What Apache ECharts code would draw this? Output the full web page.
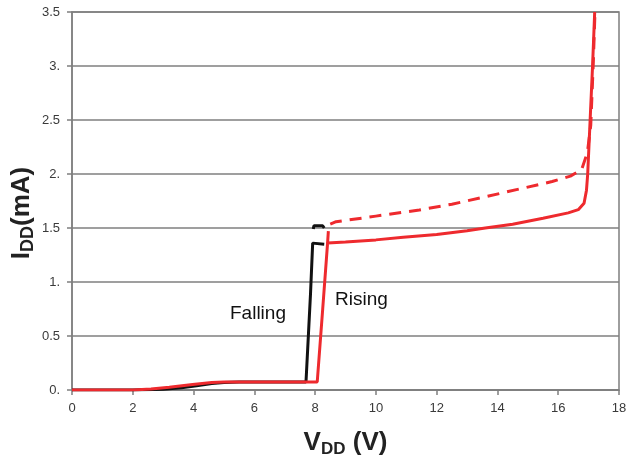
<!DOCTYPE html>
<html>
<head>
<meta charset="utf-8">
<script src="https://cdn.jsdelivr.net/npm/echarts@6/dist/echarts.min.js"></script>
<style>
html,body{margin:0;padding:0;background:#fff;}
#chart{width:626px;height:460px;}
</style>
</head>
<body>
<div id="chart"></div>
<script>
// V_DD (V), I_DD (mA) pairs
const risingSolid = [
  [0,0],[2,0],[2.6,0.01],[3.2,0.025],[3.97,0.05],[4.6,0.07],[5,0.075],[8.07,0.075],
  [8.25,0.75],[8.41,1.36],[9,1.37],[10,1.39],[10.9,1.414],[12,1.44],[13,1.475],
  [13.6,1.5],[14.5,1.535],[15.5,1.59],[16.33,1.64],[16.66,1.67],[16.85,1.73],
  [16.93,1.85],[16.97,2.0],[17.05,2.5],[17.13,3.0],[17.2,3.5]
];
const risingDashed = [
  [8.41,1.36],[8.45,1.53],[8.69,1.558],[10,1.61],[11.43,1.667],[12.5,1.72],
  [13.62,1.79],[14.7,1.86],[15.8,1.93],[16.4,1.98],[16.77,2.04],[16.96,2.2],
  [17.07,2.45],[17.15,3.0],[17.21,3.5]
];
const fallingSolid = [
  [0,0],[2,0],[3,0.008],[3.6,0.02],[4.1,0.04],[4.6,0.06],[5,0.07],[5.5,0.075],
  [7.7,0.075],[7.85,0.9],[7.92,1.36],[8.3,1.35]
];
const fallingUpper = [[7.94,1.49],[7.96,1.52],[8.25,1.52],[8.3,1.5]];
const yTickLabels = {0:'0.',0.5:'0.5',1:'1.',1.5:'1.5',2:'2.',2.5:'2.5',3:'3.',3.5:'3.5'};
const curveLabels = [
  {text:'Falling', x:230, y:304},
  {text:'Rising', x:335, y:290}
];

const chart = echarts.init(document.getElementById('chart'));
const red = '#ee2a2e';
const axisGray = '#7f7f7f';
const yTitle = {
  type:'text', x:22, y:213, rotation:Math.PI/2,
  style:{
    text:'{a|I}{b|DD}{a|(mA)}', align:'center', verticalAlign:'middle',
    rich:{
      a:{fontSize:26,fontWeight:'bold',fontFamily:'Liberation Sans',fill:'#222',lineHeight:30},
      b:{fontSize:18,fontWeight:'bold',fontFamily:'Liberation Sans',fill:'#222',lineHeight:18,verticalAlign:'bottom'}
    }
  }
};
chart.setOption({
  animation:false,
  grid:{left:72,right:7,top:12,bottom:70,show:true,borderColor:axisGray,borderWidth:1.5,
    containLabel:false,outerBoundsMode:'none'},
  xAxis:{
    type:'value',min:0,max:18,interval:2,
    axisLine:{show:true,lineStyle:{color:axisGray,width:1.5}},
    axisTick:{show:true,length:5,lineStyle:{color:axisGray,width:1.5}},
    splitLine:{show:false},
    axisLabel:{color:'#3a3a3a',fontSize:13,fontFamily:'Liberation Sans',margin:12},
    name:'{a|V}{b|DD}{a| (V)}',nameLocation:'middle',nameGap:38,
    nameTextStyle:{rich:{
      a:{fontSize:26,fontWeight:'bold',fontFamily:'Liberation Sans',color:'#222',lineHeight:30},
      b:{fontSize:17,fontWeight:'bold',fontFamily:'Liberation Sans',color:'#222',lineHeight:18,verticalAlign:'bottom'}
    }}
  },
  yAxis:{
    type:'value',min:0,max:3.5,interval:0.5,
    axisLine:{show:true,lineStyle:{color:axisGray,width:1.5}},
    axisTick:{show:true,length:5,lineStyle:{color:axisGray,width:1.5}},
    splitLine:{show:true,lineStyle:{color:axisGray,width:1.5}},
    axisLabel:{color:'#3a3a3a',fontSize:13,fontFamily:'Liberation Sans',margin:12,
      formatter:v=>yTickLabels[v]!==undefined?yTickLabels[v]:String(v)}
  },
  graphic: curveLabels.map(l=>({type:'text',left:l.x,top:l.y,
    style:{text:l.text,font:'19px "Liberation Sans"',fill:'#111'}})).concat([yTitle]),
  series:[
    {type:'line',data:fallingSolid,symbol:'none',lineStyle:{color:'#111',width:3},z:2},
    {type:'line',data:fallingUpper,symbol:'none',lineStyle:{color:'#111',width:3},z:2},
    {type:'line',data:risingSolid,symbol:'none',lineStyle:{color:red,width:3},z:3},
    {type:'line',data:risingDashed,symbol:'none',lineStyle:{color:red,width:3,type:[12,8]},z:3}
  ]
});
</script>
</body>
</html>
